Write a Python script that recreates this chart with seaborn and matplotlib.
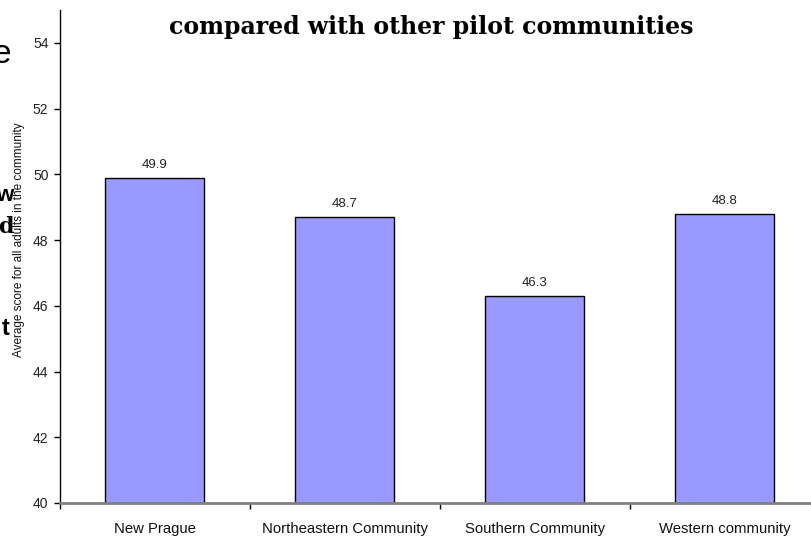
import matplotlib
matplotlib.use("Agg")
import matplotlib.pyplot as plt
import seaborn as sns
from matplotlib.ticker import FixedLocator

# Average community scores
communities = ["New Prague", "Northeastern Community", "Southern Community", "Western community"]
scores = [49.9, 48.7, 46.3, 48.8]
y_ticks = [40, 42, 44, 46, 48, 50, 52, 54]

sns.set_style("white")
sans = ["Liberation Sans", "DejaVu Sans"]

W, H = 812, 537
fig = plt.figure(figsize=(W / 100, H / 100), dpi=100)
# plot area runs a little past the right edge of the canvas
ax = fig.add_axes([59.6 / W, 34 / H, 760 / W, 493 / H])

sns.barplot(x=communities, y=scores, color="#9999FF", edgecolor="black",
            linewidth=1.0, width=0.525, saturation=1, ax=ax)

ax.set_ylim(40, 55)
ax.set_xlim(-0.5, 3.5)
ax.set_yticks(y_ticks)
ax.set_yticklabels([str(t) for t in y_ticks], family=sans, fontsize=10, color="#222222")
ax.set_xticks(range(len(communities)))
ax.set_xticklabels(communities, family=sans, fontsize=10.7, color="#111111")
ax.xaxis.set_minor_locator(FixedLocator([-0.5, 0.5, 1.5, 2.5, 3.5]))
ax.tick_params(axis="x", which="major", length=0, pad=14)
ax.tick_params(axis="x", which="minor", length=4, width=1, color="black", direction="out", bottom=True)
ax.tick_params(axis="y", length=4, width=1, color="black", direction="out", left=True, pad=4)

ax.set_xlabel("")
ax.set_ylabel("Average score for all adults in the community", family=sans, fontsize=8.5, color="#111111")
ax.yaxis.set_label_coords((25 - 59.6) / 760, (503 - 240) / 493)

for side in ["top", "right"]:
    ax.spines[side].set_visible(False)
ax.spines["left"].set_color("black")
ax.spines["left"].set_linewidth(1)
ax.spines["bottom"].set_color("#808080")
ax.spines["bottom"].set_linewidth(2)

ax.bar_label(ax.containers[0], fmt="%.1f", padding=5, family=sans, fontsize=9.5, color="#222222")

fig.text(431.6 / W, 1 - 27 / H, "compared with other pilot communities", ha="center", va="center",
         family="DejaVu Serif", fontweight="bold", fontsize=17, color="black")

# Edge of the slide's body text
fig.text(11 / W, 1 - 63 / H, "e", ha="right", va="baseline", fontsize=24, color="black", family=sans)
fig.text(13 / W, 1 - 201 / H, "w", ha="right", va="baseline", fontsize=16, color="black",
         family=sans, fontweight="bold")
fig.text(14 / W, 1 - 233 / H, "d", ha="right", va="baseline", fontsize=16, color="black",
         family="DejaVu Serif", fontweight="bold")
fig.text(10 / W, 1 - 335 / H, "t", ha="right", va="baseline", fontsize=17, color="black",
         family=sans, fontweight="bold")

fig.savefig("out.png", dpi=100)
